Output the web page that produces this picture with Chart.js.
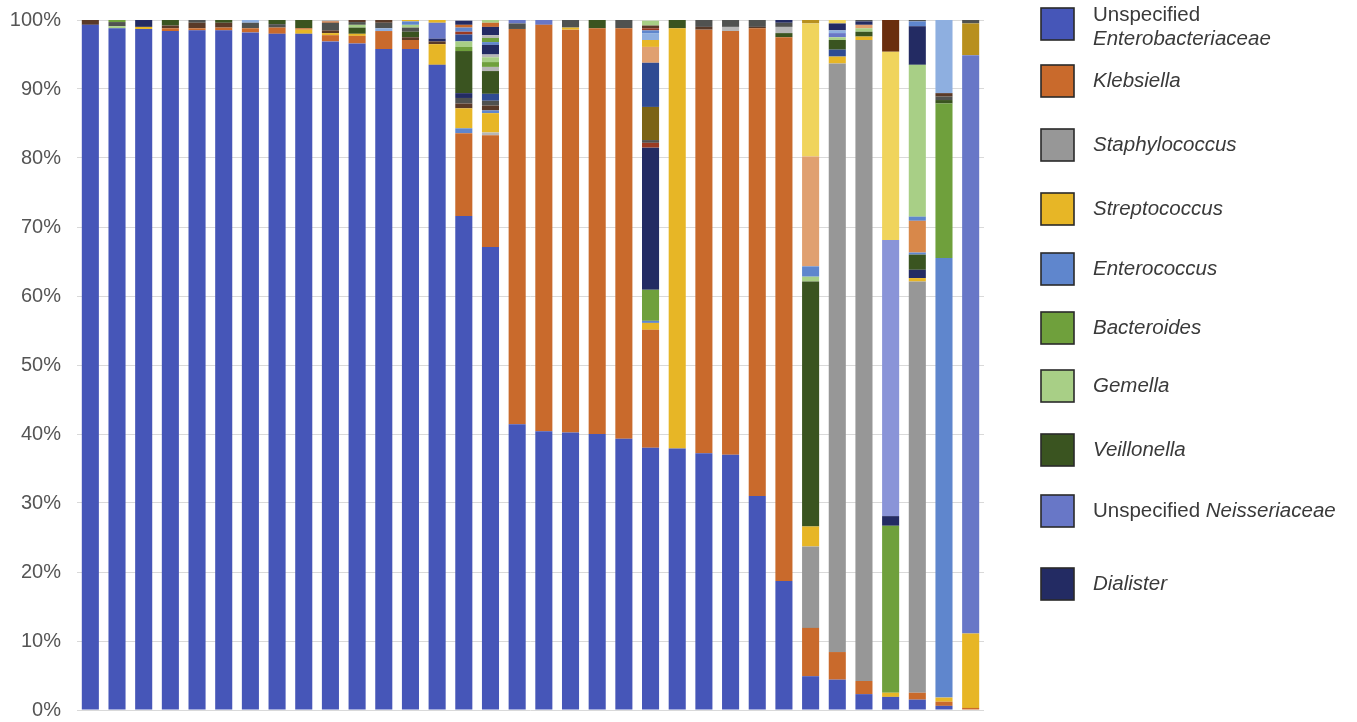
<!DOCTYPE html>
<html>
<head>
<meta charset="utf-8">
<title>Relative abundance by sample</title>
<script src="https://cdn.jsdelivr.net/npm/chart.js@4"></script>
<style>
  html, body { margin: 0; padding: 0; background: #ffffff; }
  #wrap { width: 1357px; height: 722px; }
</style>
</head>
<body>
<div id="wrap"><canvas id="chart" width="1357" height="722"></canvas></div>
<script>
// Taxa shown in the legend (key order = legend order)
const legendKeys = ['ent', 'kleb', 'stph', 'strep', 'entc', 'bact', 'gem', 'veil', 'neis', 'dial'];

// Legend text: each entry is a list of lines, each line a list of [text, italic]
const legendLabels = [
  [[['Unspecified', false]], [['Enterobacteriaceae', true]]],
  [[['Klebsiella', true]]],
  [[['Staphylococcus', true]]],
  [[['Streptococcus', true]]],
  [[['Enterococcus', true]]],
  [[['Bacteroides', true]]],
  [[['Gemella', true]]],
  [[['Veillonella', true]]],
  [[['Unspecified ', false], ['Neisseriaceae', true]]],
  [[['Dialister', true]]]
];

// Fill colour for every taxon (named ones plus minor unlabelled taxa)
const taxonColors = {
  ent: '#4656b8', kleb: '#c96a2c', stph: '#979797', strep: '#e7b626',
  entc: '#5f86cd', bact: '#6fa03c', gem: '#a8cf86', veil: '#3a5420',
  neis: '#6877c7', dial: '#232b63',
  brn: '#5a3a28', dgry: '#505250', lgry: '#b7b7b7', ltb: '#8eafe0',
  tan: '#e0a070', ltyel: '#f0d45c', peri: '#8a94d8', olive: '#7b6315',
  mblue: '#2f4b93', red: '#9a3a22', gold: '#b8901e', lorg: '#d8884a',
  choc: '#6a2e0e'
};

// Y-axis tick labels
const yTickLabels = ['0%', '10%', '20%', '30%', '40%', '50%', '60%', '70%', '80%', '90%', '100%'];

// Per-sample composition, bottom to top: [taxon, percent]
const s01 = [['ent', 99.3], ['brn', 0.7]];
const s02 = [['ent', 98.8], ['gem', 0.3], ['dgry', 0.6], ['bact', 0.3]];
const s03 = [['ent', 98.7], ['strep', 0.3], ['dial', 1.0]];
const s04 = [['ent', 98.4], ['kleb', 0.4], ['brn', 0.4], ['veil', 0.8]];
const s05 = [['ent', 98.5], ['kleb', 0.3], ['brn', 0.8], ['dgry', 0.4]];
const s06 = [['ent', 98.5], ['kleb', 0.4], ['brn', 0.7], ['veil', 0.4]];
const s07 = [['ent', 98.2], ['kleb', 0.6], ['dgry', 0.8], ['ltb', 0.4]];
const s08 = [['ent', 98.0], ['kleb', 0.9], ['dgry', 0.5], ['veil', 0.6]];
const s09 = [['ent', 98.0], ['strep', 0.6], ['kleb', 0.2], ['veil', 1.2]];
const s10 = [['ent', 96.9], ['kleb', 0.9], ['strep', 0.3], ['brn', 0.4], ['dgry', 1.1], ['kleb', 0.2], ['lgry', 0.2]];
const s11 = [['ent', 96.6], ['kleb', 1.1], ['strep', 0.3], ['veil', 0.9], ['gem', 0.4], ['dgry', 0.4], ['brn', 0.3]];
const s12 = [['ent', 95.8], ['kleb', 2.6], ['ltb', 0.4], ['dgry', 0.8], ['brn', 0.4]];
const s13 = [['ent', 95.8], ['kleb', 1.3], ['brn', 0.4], ['veil', 0.8], ['dgry', 0.6], ['gem', 0.4], ['entc', 0.5], ['strep', 0.2]];
const s14 = [['ent', 93.5], ['strep', 3.0], ['brn', 0.4], ['dial', 0.4], ['neis', 2.3], ['strep', 0.4]];
const s15 = [['ent', 71.6], ['kleb', 12.0], ['entc', 0.7], ['strep', 2.9], ['brn', 0.7], ['dgry', 0.8], ['dial', 0.7],
             ['veil', 6.1], ['bact', 0.6], ['gem', 0.8], ['mblue', 1.0], ['red', 0.4], ['entc', 0.6], ['kleb', 0.4], ['dial', 0.6]];
const s16 = [['ent', 67.1], ['kleb', 16.2], ['lgry', 0.4], ['strep', 2.8], ['entc', 0.4], ['brn', 0.7], ['dgry', 0.7],
             ['mblue', 1.0], ['veil', 3.3], ['lgry', 0.6], ['bact', 0.7], ['gem', 0.7], ['lgry', 0.4], ['dial', 1.4],
             ['entc', 0.4], ['bact', 0.6], ['lgry', 0.4], ['dial', 1.2], ['kleb', 0.6], ['gem', 0.4]];
const s17 = [['ent', 41.4], ['kleb', 57.3], ['dgry', 0.8], ['neis', 0.5]];
const s18 = [['ent', 40.4], ['kleb', 58.9], ['neis', 0.7]];
const s19 = [['ent', 40.2], ['kleb', 58.4], ['strep', 0.3], ['dgry', 1.1]];
const s20 = [['ent', 40.0], ['kleb', 58.8], ['veil', 1.2]];
const s21 = [['ent', 39.3], ['kleb', 59.5], ['dgry', 1.2]];
const s22 = [['ent', 38.0], ['kleb', 17.1], ['strep', 1.0], ['entc', 0.3], ['bact', 4.5], ['dial', 20.6], ['red', 0.7],
             ['dgry', 0.4], ['olive', 4.8], ['mblue', 6.4], ['tan', 2.3], ['strep', 1.0], ['ltb', 1.0], ['entc', 0.4],
             ['red', 0.3], ['brn', 0.4], ['gem', 0.7]];
const s23 = [['ent', 37.9], ['strep', 60.9], ['veil', 1.2]];
const s24 = [['ent', 37.2], ['kleb', 61.4], ['brn', 0.4], ['dgry', 1.0]];
const s25 = [['ent', 37.0], ['kleb', 61.4], ['lgry', 0.6], ['dgry', 1.0]];
const s26 = [['ent', 31.0], ['kleb', 67.8], ['brn', 0.2], ['dgry', 1.0]];
const s27 = [['ent', 18.7], ['kleb', 78.8], ['veil', 0.6], ['lgry', 0.9], ['dgry', 0.6], ['dial', 0.4]];
const s28 = [['ent', 4.9], ['kleb', 7.0], ['stph', 11.8], ['strep', 2.9], ['veil', 35.5], ['gem', 0.7], ['entc', 1.5],
             ['tan', 15.9], ['ltyel', 19.3], ['gold', 0.5]];
const s29 = [['ent', 4.4], ['kleb', 4.0], ['stph', 85.3], ['strep', 1.0], ['mblue', 1.0], ['veil', 1.4], ['gem', 0.4],
             ['neis', 0.6], ['ltb', 0.4], ['dial', 1.0], ['ltyel', 0.5]];
const s30 = [['ent', 2.3], ['kleb', 1.9], ['stph', 92.9], ['strep', 0.5], ['veil', 0.7], ['gem', 0.5], ['tan', 0.5],
             ['dial', 0.5], ['dgry', 0.2]];
const s31 = [['ent', 1.9], ['strep', 0.6], ['bact', 24.2], ['dial', 1.4], ['peri', 40.0], ['ltyel', 27.3], ['choc', 4.6]];
const s32 = [['ent', 1.5], ['kleb', 1.0], ['stph', 59.6], ['strep', 0.5], ['dial', 1.2], ['veil', 2.2], ['entc', 0.3],
             ['lorg', 4.6], ['entc', 0.6], ['gem', 22.0], ['dial', 5.6], ['entc', 0.7], ['dgry', 0.2]];
const s33 = [['ent', 0.6], ['kleb', 0.6], ['strep', 0.6], ['entc', 63.7], ['bact', 22.4], ['veil', 0.5], ['dgry', 0.5],
             ['brn', 0.5], ['ltb', 10.6]];
const s34 = [['kleb', 0.3], ['strep', 10.8], ['neis', 83.8], ['gold', 4.6], ['dgry', 0.5]];

const samples = [s01, s02, s03, s04, s05, s06, s07, s08, s09, s10, s11, s12, s13, s14, s15, s16, s17,
                 s18, s19, s20, s21, s22, s23, s24, s25, s26, s27, s28, s29, s30, s31, s32, s33, s34];
const sampleIds = samples.map((_, i) => 'S' + String(i + 1).padStart(2, '0'));

// One stacked dataset per layer position; each bar colours its own segment
const layerCount = Math.max(...samples.map(s => s.length));
const datasets = [];
for (let k = 0; k < layerCount; k++) {
  datasets.push({
    label: 'layer ' + (k + 1),
    data: samples.map(s => (s[k] ? s[k][1] : null)),
    backgroundColor: samples.map(s => (s[k] ? taxonColors[s[k][0]] : 'rgba(0,0,0,0)')),
    borderWidth: 0,
    categoryPercentage: 0.8,
    barPercentage: 0.8
  });
}

const FONT = '"Liberation Sans", Arial, Helvetica, sans-serif';

// Legend rows drawn at the right of the plot
const legendRowY = [24, 81, 145, 209, 269, 328, 386, 450, 511, 584];
const sideLegend = {
  id: 'sideLegend',
  afterDraw(chart) {
    const ctx = chart.ctx;
    ctx.save();
    legendKeys.forEach((key, i) => {
      const cy = legendRowY[i];
      ctx.fillStyle = taxonColors[key];
      ctx.fillRect(1041, cy - 16, 33, 32);
      ctx.lineWidth = 1.6;
      ctx.strokeStyle = '#2a2a2a';
      ctx.strokeRect(1041, cy - 16, 33, 32);
      const lines = legendLabels[i];
      const lineGap = 24;
      let ly = cy - (lines.length - 1) * lineGap / 2 + (lines.length > 1 ? 3 : 0);
      ctx.textBaseline = 'middle';
      ctx.fillStyle = '#3a3a3a';
      lines.forEach(parts => {
        let x = 1093;
        parts.forEach(([txt, it]) => {
          ctx.font = (it ? 'italic ' : '') + '20.5px ' + FONT;
          ctx.fillText(txt, x, ly);
          x += ctx.measureText(txt).width;
        });
        ly += lineGap;
      });
    });
    ctx.restore();
  }
};

new Chart(document.getElementById('chart'), {
  type: 'bar',
  data: { labels: sampleIds, datasets },
  options: {
    responsive: false,
    animation: false,
    devicePixelRatio: 1,
    layout: { padding: { left: 0, right: 373, top: 20, bottom: 12 } },
    plugins: { legend: { display: false }, tooltip: { enabled: false } },
    scales: {
      x: { stacked: true, display: false },
      y: {
        stacked: true,
        min: 0,
        max: 100,
        border: { display: false },
        grid: { color: '#d9d9d9', lineWidth: 1, drawTicks: false },
        afterFit(scale) {
          scale.width = 77;
          scale.paddingTop = 0;
          scale.paddingBottom = 0;
        },
        ticks: {
          stepSize: 10,
          padding: 16,
          color: '#555555',
          font: { family: FONT, size: 20 },
          callback: (v) => yTickLabels[Math.round(v / 10)]
        }
      }
    }
  },
  plugins: [sideLegend]
});
</script>
</body>
</html>
